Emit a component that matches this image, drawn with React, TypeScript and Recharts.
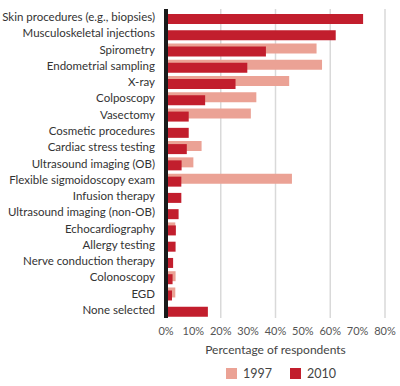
import React from "react";
import {
  BarChart,
  Bar,
  CartesianGrid,
  XAxis,
  YAxis,
} from "recharts";

const procedures = [
  "Skin procedures (e.g., biopsies)",
  "Musculoskeletal injections",
  "Spirometry",
  "Endometrial sampling",
  "X-ray",
  "Colposcopy",
  "Vasectomy",
  "Cosmetic procedures",
  "Cardiac stress testing",
  "Ultrasound imaging (OB)",
  "Flexible sigmoidoscopy exam",
  "Infusion therapy",
  "Ultrasound imaging (non-OB)",
  "Echocardiography",
  "Allergy testing",
  "Nerve conduction therapy",
  "Colonoscopy",
  "EGD",
  "None selected",
];

const values1997 = [
  null, null, 55, 57, 45, 33, 31, null, 13, 10, 46, null, null, 3.4, null, null, 3.5, 3.4, null,
];
const values2010 = [
  72, 62, 36.5, 29.7, 25.4, 14.3, 8.3, 8.3, 7.6, 5.7, 5.6, 5.6, 4.6, 3.6, 3.5, 2.6, 2.4, 2.2, 15.3,
];

const xTicks = [0, 10, 20, 30, 40, 50, 60, 70, 80];

const COLOR_1997 = "#eba295";
const COLOR_2010 = "#c21e2d";
const FONT = "Lato, 'Open Sans', sans-serif";

const data = procedures.map((name, i) => ({
  name,
  y1997: values1997[i],
  y2010: values2010[i],
}));

const legendItems = [
  { label: "1997", color: COLOR_1997, left: 226 },
  { label: "2010", color: COLOR_2010, left: 290 },
];

// plain text tick so long names never wrap
const CategoryTick = ({ x, y, payload }: any) => (
  <text x={x} y={y} dy="0.35em" textAnchor="end" fill="#333" fontSize={11.5} fontFamily={FONT}>
    {payload.value}
  </text>
);

const LegendBox = () => (
  <>
    {legendItems.map((item) => (
      <div
        key={item.label}
        style={{
          position: "absolute",
          top: 366,
          left: item.left,
          display: "flex",
          alignItems: "center",
          fontFamily: FONT,
          fontSize: 12.5,
          color: "#444",
        }}
      >
        <span style={{ width: 11, height: 11, background: item.color, display: "inline-block", marginRight: 6 }} />
        <span>{item.label}</span>
      </div>
    ))}
  </>
);

export default function App() {
  return (
    <div style={{ position: "absolute", left: 0, top: 0, width: 400, height: 386, background: "#fff" }}>
      <BarChart
        layout="vertical"
        width={400}
        height={386}
        data={data}
        margin={{ top: 9, right: 15, left: 0, bottom: 28 }}
        barSize={10}
        barGap={-7}
      >
        <CartesianGrid horizontal={false} stroke="#d9d9d9" strokeWidth={1.5} />
        <XAxis
          type="number"
          domain={[0, 80]}
          ticks={xTicks}
          tickFormatter={(v) => `${v}%`}
          axisLine={false}
          tickLine={false}
          tick={{ fill: "#555", fontSize: 11, fontFamily: FONT }}
          tickMargin={3}
          height={40}
          label={{
            value: "Percentage of respondents",
            position: "insideBottom",
            offset: 4,
            fill: "#444",
            fontSize: 12,
            fontFamily: FONT,
          }}
        />
        <YAxis
          type="category"
          dataKey="name"
          width={166}
          tickLine={false}
          axisLine={{ stroke: "#1a1a1a", strokeWidth: 4 }}
          tick={<CategoryTick />}
          tickMargin={5}
          interval={0}
        />
        <Bar dataKey="y1997" fill={COLOR_1997} isAnimationActive={false} />
        <Bar dataKey="y2010" fill={COLOR_2010} isAnimationActive={false} />
      </BarChart>
      <LegendBox />
    </div>
  );
}
